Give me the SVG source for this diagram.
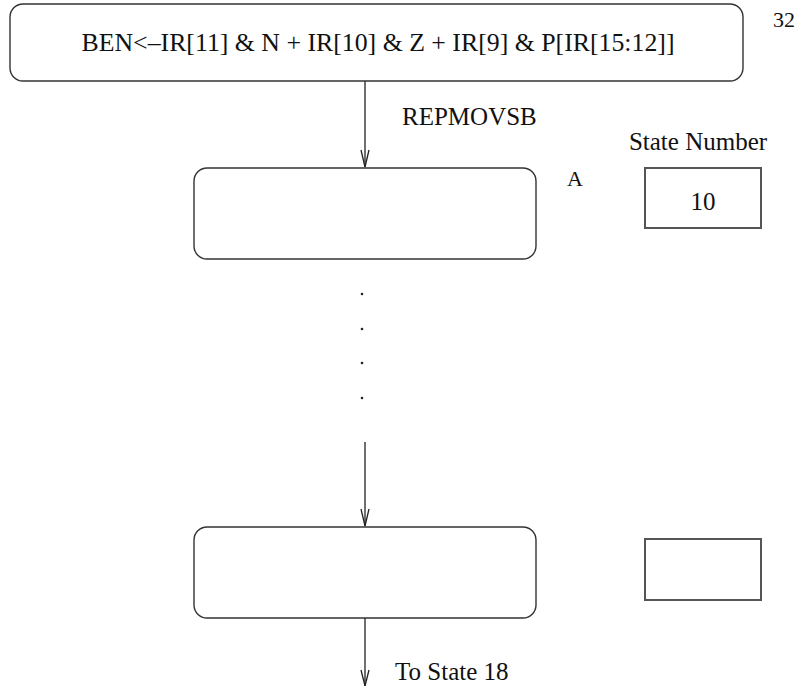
<svg xmlns="http://www.w3.org/2000/svg" width="801" height="686" viewBox="0 0 801 686">
<defs>
<style>
text{font-family:"Liberation Serif","Times New Roman",serif;fill:#111;}
.big{font-size:25px;}
.state{fill:#fff;stroke:#333;stroke-width:1.4;}
.num{fill:#fff;stroke:#555;stroke-width:2;}
.conn{fill:none;stroke:#222;stroke-width:1.3;}
.head{fill:none;stroke:#222;stroke-width:1.3;}
</style>
</defs>
<rect width="801" height="686" fill="#fff"/>
<g id="connectors">
<line class="conn" x1="365" y1="81" x2="365" y2="167"/>
<path class="head" d="M361,150 L365,167 L369,150"/>
<line class="conn" x1="365" y1="442" x2="365" y2="526"/>
<path class="head" d="M361,509 L365,526 L369,509"/>
<line class="conn" x1="365" y1="618" x2="365" y2="686"/>
<path class="head" d="M361,670 L365,686 L369,670"/>
<text class="big" x="402" y="125">REPMOVSB</text>
<text class="big" x="395" y="680">To State 18</text>
</g>
<g id="state32">
<rect class="state" x="10" y="4" width="733" height="77" rx="13"/>
<text class="big" x="378" y="51" text-anchor="middle" textLength="593" lengthAdjust="spacingAndGlyphs">BEN&lt;–IR[11] &amp; N + IR[10] &amp; Z + IR[9] &amp; P[IR[15:12]]</text>
<text x="773" y="27" font-size="22">32</text>
</g>
<g id="stateA">
<rect class="state" x="194" y="168" width="342" height="91" rx="13"/>
<text x="567" y="186" font-size="22">A</text>
</g>
<g id="stateNumber">
<text class="big" x="698" y="150" text-anchor="middle">State Number</text>
<rect class="num" x="645" y="168" width="116" height="60"/>
<text class="big" x="703" y="210" text-anchor="middle">10</text>
</g>
<g id="dots" fill="#222">
<circle cx="362" cy="294" r="1.3"/>
<circle cx="362" cy="329" r="1.3"/>
<circle cx="362" cy="363" r="1.3"/>
<circle cx="362" cy="398" r="1.3"/>
</g>
<g id="stateLast">
<rect class="state" x="194" y="527" width="342" height="91" rx="13"/>
</g>
<g id="stateNumberLast">
<rect class="num" x="645" y="539" width="116" height="61"/>
</g>
</svg>
